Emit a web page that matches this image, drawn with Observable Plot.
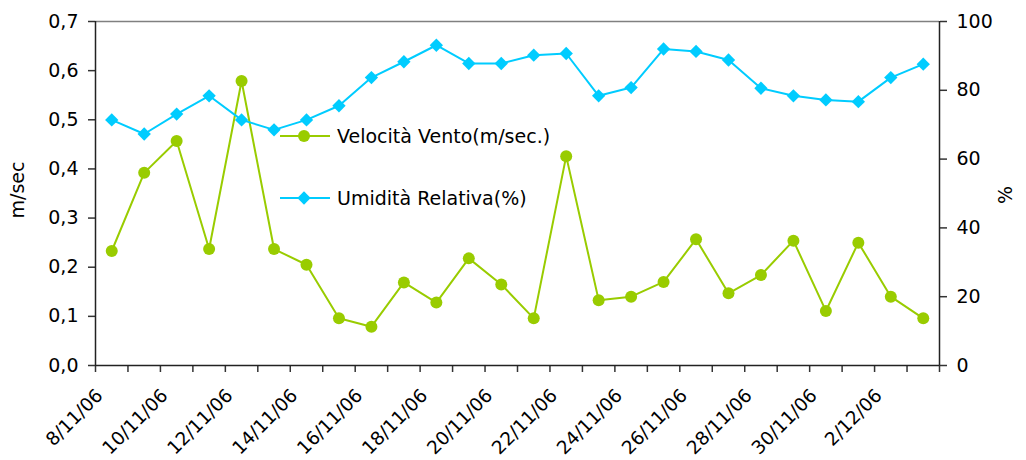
<!DOCTYPE html>
<html><head><meta charset="utf-8">
<script src="https://cdn.jsdelivr.net/npm/d3@7"></script>
<script src="https://cdn.jsdelivr.net/npm/@observablehq/plot@0.6"></script>
<style>body{margin:0;background:#fff;}</style>
</head><body><div id="chart"></div>
<script>
const dates = ["8/11/06","9/11/06","10/11/06","11/11/06","12/11/06","13/11/06","14/11/06","15/11/06","16/11/06","17/11/06","18/11/06","19/11/06","20/11/06","21/11/06","22/11/06","23/11/06","24/11/06","25/11/06","26/11/06","27/11/06","28/11/06","29/11/06","30/11/06","1/12/06","2/12/06","3/12/06"];
const wind = [0.233,0.392,0.457,0.237,0.579,0.237,0.205,0.096,0.079,0.169,0.128,0.218,0.165,0.096,0.426,0.133,0.140,0.170,0.257,0.147,0.184,0.254,0.111,0.250,0.140,0.096];
const humidity = [71.4,67.3,73.1,78.4,71.4,68.5,71.4,75.5,83.7,88.3,93.1,87.8,87.8,90.2,90.7,78.4,80.8,92.0,91.3,88.8,80.6,78.4,77.2,76.7,83.7,87.6];
const leftTicks = [0,0.1,0.2,0.3,0.4,0.5,0.6,0.7];
const rightTicks = [0,20,40,60,80,100];
const labelIdx = [0,2,4,6,8,10,12,14,16,18,20,22,24];
const seriesNames = ["Velocità Vento(m/sec.)","Umidità Relativa(%)"];
const colors = ["#99CC00","#00CCFF"];

const RATIO = 0.7/100;
const n = dates.length;
const data = dates.map((d,i)=>({i, date:d, wind:wind[i], hum:humidity[i]*RATIO}));

const W=1026,H=460,ML=95,MR=87,MT=21,MB=95;
const chart = Plot.plot({
  width:W, height:H, marginLeft:ML, marginRight:MR, marginTop:MT, marginBottom:MB,
  x:{type:"linear", domain:[-0.5, n-0.5]},
  y:{domain:[0,0.7]},
  style:{fontFamily:"'DejaVu Sans', sans-serif", fontSize:"19px", color:"#000", background:"#fff", overflow:"visible"},
  marks:[
    Plot.ruleY([0.7], {stroke:"#808080", strokeWidth:1.5}),
    Plot.axisY({anchor:"left", ticks:leftTicks, tickFormat:d=>d.toFixed(1).replace(".",","), tickSize:7, tickPadding:10, label:null, stroke:"#333", strokeWidth:1.5}),
    Plot.axisY({anchor:"right", ticks:rightTicks.map(v=>v*RATIO), tickFormat:v=>String(Math.round(v/RATIO)), tickSize:7, tickPadding:10, label:null, stroke:"#333", strokeWidth:1.5}),
    Plot.axisX({ticks:d3.range(n+1).map(k=>k-0.5), tickFormat:()=>"", tickSize:7, label:null, stroke:"#333", strokeWidth:1.5}),
    Plot.axisX({ticks:labelIdx, tickFormat:i=>dates[i], tickSize:0, tickRotate:-45, tickPadding:27, dx:-12, label:null, fontSize:18.5}),
    Plot.ruleX([-0.5, n-0.5], {stroke:"#222", strokeWidth:1.5}),
    Plot.ruleY([0], {stroke:"#222", strokeWidth:1.5}),
    Plot.line(data, {x:"i", y:"wind", stroke:colors[0], strokeWidth:2}),
    Plot.dot(data, {x:"i", y:"wind", r:6, fill:colors[0]}),
    Plot.line(data, {x:"i", y:"hum", stroke:colors[1], strokeWidth:2}),
    Plot.dot(data, {x:"i", y:"hum", symbol:"diamond2", r:6, fill:colors[1]})
  ]
});
document.getElementById("chart").appendChild(chart);

const svg = d3.select(chart);
// axis titles
svg.append("text").attr("transform","translate(24,190) rotate(-90)").attr("text-anchor","middle")
  .attr("font-size",19).attr("fill","#000").text("m/sec");
svg.append("text").attr("transform","translate(1012,195) rotate(-90)").attr("text-anchor","middle")
  .attr("font-size",19).attr("fill","#000").text("%");
// legend
const leg = svg.append("g").attr("text-anchor","start");
[136,198].forEach((yy,k)=>{
  const g = leg.append("g");
  g.append("line").attr("x1",280).attr("x2",330).attr("y1",yy).attr("y2",yy).attr("stroke",colors[k]).attr("stroke-width",2);
  if(k===0) g.append("circle").attr("cx",304).attr("cy",yy).attr("r",6).attr("fill",colors[k]);
  else g.append("path").attr("d",d3.symbol(d3.symbolDiamond2, Math.PI*36)()).attr("transform",`translate(304,${yy})`).attr("fill",colors[k]);
  g.append("text").attr("x",337).attr("y",yy).attr("dy","0.35em").attr("font-size",19).attr("fill","#000").text(seriesNames[k]);
});
</script>
</body></html>
